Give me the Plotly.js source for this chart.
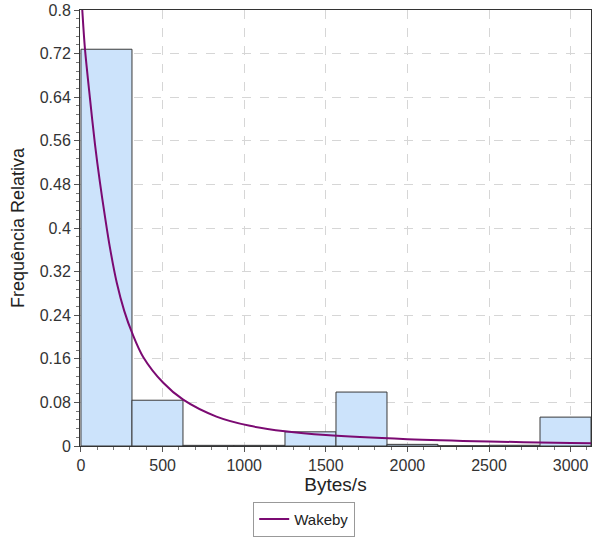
<!DOCTYPE html>
<html>
<head>
<meta charset="utf-8">
<script src="https://cdn.plot.ly/plotly-3.0.1.min.js"></script>
<style>html,body{margin:0;padding:0;background:#fff;}#chart{width:593px;height:539px;}</style>
</head>
<body>
<div id="chart"></div>
<script>
// Histogram bins (Bytes/s) and relative frequencies
const binStarts = [0, 312.5, 625, 937.5, 1250, 1562.5, 1875, 2187.5, 2500, 2812.5];
const binWidth = 312.5;
const relFreq = [0.728, 0.084, 0.0012, 0.0012, 0.026, 0.099, 0.003, 0.0005, 0.0013, 0.053];

// Wakeby fitted density
const wakebyX = [0, 8, 24, 55, 86, 116, 147, 178, 219, 265, 314, 382, 504, 626, 830, 1035, 1250, 1500, 2000, 2500, 3000, 3125];
const wakebyY = [0.84, 0.8, 0.73, 0.638, 0.553, 0.484, 0.421, 0.363, 0.3, 0.248, 0.207, 0.163, 0.116, 0.085, 0.054, 0.037, 0.027, 0.020, 0.0125, 0.0083, 0.0056, 0.005];

const yTicks = [0, 0.08, 0.16, 0.24, 0.32, 0.4, 0.48, 0.56, 0.64, 0.72, 0.8];
const yTickText = ["0", "0.08", "0.16", "0.24", "0.32", "0.4", "0.48", "0.56", "0.64", "0.72", "0.8"];
const xTicks = [0, 500, 1000, 1500, 2000, 2500, 3000];

const bars = {
  type: 'bar',
  x: binStarts,
  y: relFreq,
  width: binStarts.map(() => binWidth),
  offset: 0,
  marker: {color: '#cce3fb', line: {color: '#3a3a3a', width: 1}},
  showlegend: false,
  hoverinfo: 'skip'
};
const curve = {
  type: 'scatter',
  mode: 'lines',
  x: wakebyX,
  y: wakebyY,
  name: 'Wakeby',
  line: {color: '#7b0a72', width: 2, shape: 'spline', smoothing: 0.9}
};

const fam = 'Liberation Sans, Arial, sans-serif';
const tickFont = {family: fam, size: 16, color: '#333'};
const layout = {
  width: 593, height: 539,
  margin: {l: 80, r: 2, t: 10, b: 93},
  paper_bgcolor: '#fff', plot_bgcolor: '#fff',
  bargap: 0,
  showlegend: true,
  legend: {
    orientation: 'h', x: 0.513, xanchor: 'center', xref: 'container',
    y: 0.004, yanchor: 'bottom', yref: 'container',
    bordercolor: '#999', borderwidth: 1, bgcolor: '#fff',
    font: {family: fam, size: 15, color: '#222'},
    itemwidth: 30
  },
  xaxis: {
    range: [-6, 3125],
    tickvals: xTicks,
    ticktext: xTicks.map(String),
    tickfont: tickFont,
    ticks: 'outside', ticklen: 5, tickcolor: '#555',
    minor: {dtick: 100, ticks: 'outside', ticklen: 3, tickcolor: '#777', showgrid: false},
    showgrid: true, gridcolor: '#d6d6d6', griddash: 'dash', gridwidth: 1,
    showline: true, linecolor: '#333', linewidth: 1, mirror: true,
    zeroline: false,
    title: {text: 'Bytes/s', font: {family: fam, size: 19, color: '#222'}, standoff: 4}
  },
  yaxis: {
    range: [0, 0.8],
    tickvals: yTicks,
    ticktext: yTickText,
    tickfont: tickFont,
    ticks: 'outside', ticklen: 5, tickcolor: '#555',
    minor: {dtick: 0.016, ticks: 'outside', ticklen: 3, tickcolor: '#777', showgrid: false},
    showgrid: true, gridcolor: '#d6d6d6', griddash: 'dash', gridwidth: 1,
    showline: true, linecolor: '#333', linewidth: 1, mirror: true,
    zeroline: false,
    title: {text: 'Frequência Relativa', font: {family: fam, size: 18, color: '#222'}, standoff: 10}
  }
};
Plotly.newPlot('chart', [bars, curve], layout, {staticPlot: true, displayModeBar: false});
</script>
</body>
</html>
